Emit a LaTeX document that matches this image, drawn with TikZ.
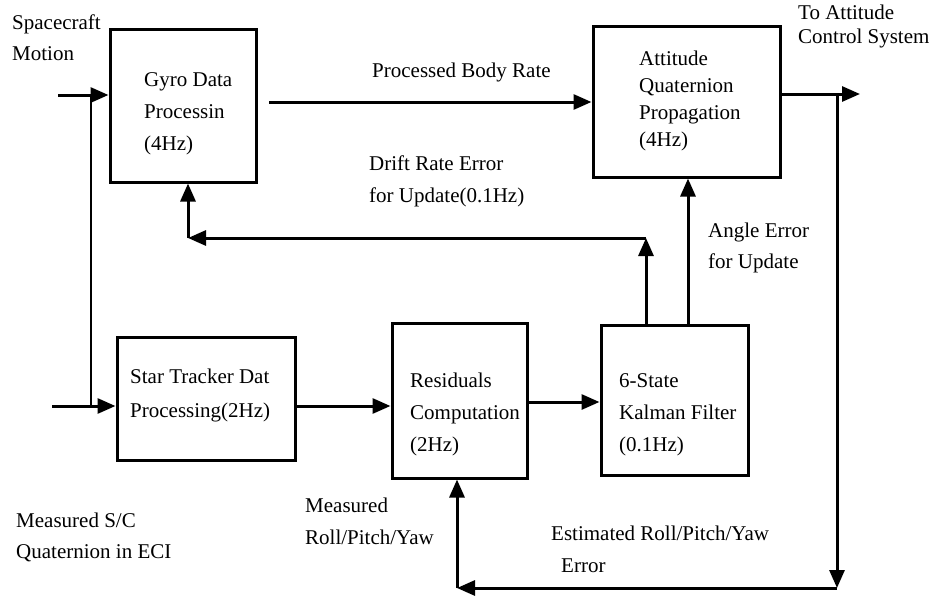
\documentclass[tikz,border=0pt]{standalone}
\usepackage{fontspec}
\setmainfont{Liberation Serif}
\usetikzlibrary{arrows.meta}
\begin{document}
\begin{tikzpicture}[x=1pt,y=-1pt,
  box/.style={draw, line width=3pt, inner sep=0pt},
  txt/.style={font=\fontsize{21}{32}\selectfont, align=left, inner sep=0pt, anchor=west},
  arr/.style={line width=3pt, -{Triangle[length=18pt,width=15pt]}},
  thin/.style={line width=2.2pt}]
\useasboundingbox (0,0) rectangle (935,597);
% boxes
\node[box, minimum width=146pt, minimum height=153pt] (gyro) at (183,105.5) {};
\node[box, minimum width=187pt, minimum height=151pt] (att) at (686.5,101.5) {};
\node[box, minimum width=178pt, minimum height=123pt] (star) at (206,398.5) {};
\node[box, minimum width=135pt, minimum height=155pt] (res) at (459.5,400.5) {};
\node[box, minimum width=147pt, minimum height=150pt] (kal) at (674.5,400) {};
% box texts
\node[txt] (gyrot) at (144,114) {Gyro Data\\Processin\\(4Hz)};
\node[txt, font=\fontsize{21}{27}\selectfont] (attt) at (639,100.5) {Attitude\\Quaternion\\Propagation\\(4Hz)};
\node[txt, font=\fontsize{21}{34}\selectfont] (start) at (130,395) {Star Tracker Dat\\Processing(2Hz)};
\node[txt] (rest) at (410,414.5) {Residuals\\Computation\\(2Hz)};
\node[txt] (kalt) at (619,414.5) {6-State\\Kalman Filter\\(0.1Hz)};
% free labels
\node[txt, font=\fontsize{21}{31}\selectfont] (scm) at (12,37.5) {Spacecraft\\Motion};
\node[txt, font=\fontsize{21}{24}\selectfont] (toacs) at (798,26) {To Attitude\\Control System};
\node[txt] (pbrl) at (372,72) {Processed Body Rate};
\node[txt] (drl) at (369,181) {Drift Rate Error\\for Update(0.1Hz)};
\node[txt, font=\fontsize{21}{31}\selectfont] (ael) at (708,247.5) {Angle Error\\for Update};
\node[txt, font=\fontsize{21}{31}\selectfont] (msc) at (16,537.5) {Measured S/C\\Quaternion in ECI};
\node[txt] (mrpy) at (305,521) {Measured\\Roll/Pitch/Yaw};
\node[txt] (erpy) at (551,549) {Estimated Roll/Pitch/Yaw\\\hspace*{10pt}Error};
% coordinates
\coordinate (in1) at (58,95);
\coordinate (br) at (91,95);
\coordinate (in2) at (52,406);
\coordinate (pbr) at (269,102);
\coordinate (out) at (860,94);
\coordinate (tap) at (837,94);
\coordinate (fb) at (837,588);
\coordinate (fbl) at (457,588);
\coordinate (sy) at (0,406);
\coordinate (ky) at (0,402);
\coordinate (ax) at (688,0);
\coordinate (dc) at (646,238);
\coordinate (gc) at (188,238);
% connectors
\draw[arr] (in1) -- (in1 -| gyro.west);
\draw[thin] (br) -- (br |- in2);
\draw[arr] (in2) -- (in2 -| star.west);
\draw[arr] (pbr) -- (pbr -| att.west);
\draw[arr] (out -| att.east) -- (out);
\draw[arr] (tap) -- (fb);
\draw[arr] (fb) -- (fbl);
\draw[arr] (fbl) -- (fbl |- res.south);
\draw[arr] (star.east |- sy) -- (res.west |- sy);
\draw[arr] (res.east |- ky) -- (kal.west |- ky);
\draw[arr] (kal.north -| ax) -- (att.south -| ax);
\draw[arr] (kal.north -| dc) -- (dc);
\draw[arr] (dc) -- (gc);
\draw[arr] (gc) -- (gyro.south -| gc);
\end{tikzpicture}
\end{document}
